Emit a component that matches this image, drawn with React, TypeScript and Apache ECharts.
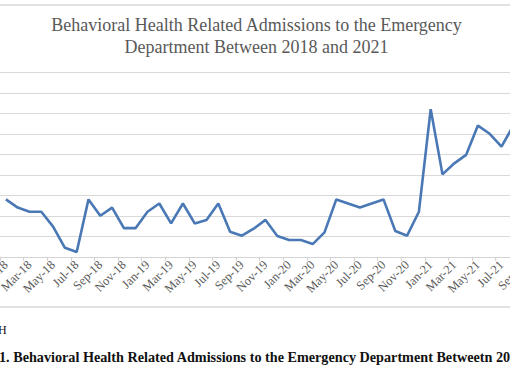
import React, { useEffect, useRef } from "react";
import * as echarts from "echarts";

const categories = [
  "Jan-18", "Feb-18", "Mar-18", "Apr-18", "May-18", "Jun-18", "Jul-18", "Aug-18", "Sep-18", "Oct-18", "Nov-18", "Dec-18",
  "Jan-19", "Feb-19", "Mar-19", "Apr-19", "May-19", "Jun-19", "Jul-19", "Aug-19", "Sep-19", "Oct-19", "Nov-19", "Dec-19",
  "Jan-20", "Feb-20", "Mar-20", "Apr-20", "May-20", "Jun-20", "Jul-20", "Aug-20", "Sep-20", "Oct-20", "Nov-20", "Dec-20",
  "Jan-21", "Feb-21", "Mar-21", "Apr-21", "May-21", "Jun-21", "Jul-21", "Aug-21", "Sep-21", "Oct-21", "Nov-21", "Dec-21",
];

const admissions = [
  28, 24, 22, 22, 14.7, 4.4, 2.3, 28, 20, 24, 14, 14,
  22, 26, 16.3, 26, 16.3, 18, 26, 12.2, 10.3, 13.7, 18, 10.1,
  8.2, 8.2, 6.2, 11.9, 28, 26, 24, 26, 28, 12.6, 10.3, 22,
  72, 40.2, 45.6, 49.7, 64, 60, 53.7, 64,
];

const titleLines = [
  "Behavioral Health Related Admissions to the Emergency",
  "Department Between 2018 and 2021",
];
const noteText = "H";
const captionText = "1. Behavioral Health Related Admissions to the Emergency Department Betweetn 2018 and 2021";

const SERIF = "Liberation Serif, Times New Roman, serif";

export default function App() {
  const ref = useRef<HTMLDivElement>(null);
  useEffect(() => {
    if (!ref.current) return;
    const chart = echarts.init(ref.current, undefined, { renderer: "svg" });
    chart.setOption({
      animation: false,
      backgroundColor: "#ffffff",
      grid: {
        left: 0,
        right: 53.6,
        top: 72.3,
        bottom: 125.2,
        containLabel: false,
        outerBoundsMode: "none",
      },
      xAxis: {
        type: "category",
        data: categories,
        boundaryGap: true,
        axisLine: { show: true, lineStyle: { color: "#d4d4d4", width: 1.2 } },
        axisTick: { show: true, interval: 1, length: 4, lineStyle: { color: "#d4d4d4", width: 1.2 } },
        axisLabel: {
          interval: 1,
          rotate: 45,
          margin: 6,
          color: "#595959",
          fontFamily: SERIF,
          fontSize: 12.5,
        },
        splitLine: { show: false },
      },
      yAxis: {
        type: "value",
        min: 0,
        max: 90,
        interval: 10,
        axisLabel: { show: false },
        axisLine: { show: false },
        axisTick: { show: false },
        splitLine: { show: true, lineStyle: { color: "#d9d9d9", width: 1.2 } },
      },
      series: [
        {
          type: "line",
          data: admissions,
          symbol: "none",
          smooth: false,
          lineStyle: { color: "#4a78b5", width: 2.6 },
        },
      ],
      graphic: [
        {
          type: "rect",
          shape: { x: -10, y: 5, width: 700, height: 302 },
          style: { fill: "none", stroke: "#d9d9d9", lineWidth: 1.3 },
          silent: true,
        },
        {
          type: "text",
          x: 256.5,
          y: 25.4,
          style: {
            text: titleLines[0],
            fill: "#595959",
            fontFamily: SERIF,
            fontSize: 18,
            textAlign: "center",
            textVerticalAlign: "middle",
          },
        },
        {
          type: "text",
          x: 256.5,
          y: 47,
          style: {
            text: titleLines[1],
            fill: "#595959",
            fontFamily: SERIF,
            fontSize: 18,
            textAlign: "center",
            textVerticalAlign: "middle",
          },
        },
        {
          type: "text",
          x: -2,
          y: 330,
          style: {
            text: noteText,
            fill: "#111111",
            fontFamily: SERIF,
            fontSize: 12,
            textAlign: "left",
            textVerticalAlign: "middle",
          },
        },
        {
          type: "text",
          x: -1,
          y: 356.8,
          style: {
            text: captionText,
            fill: "#111111",
            fontFamily: SERIF,
            fontSize: 14.2,
            fontWeight: "bold",
            textAlign: "left",
            textVerticalAlign: "middle",
          },
        },
      ],
    });
    return () => chart.dispose();
  }, []);
  return (
    <div
      style={{
        position: "absolute",
        left: 0,
        top: 0,
        width: 510,
        height: 382,
        overflow: "hidden",
        background: "#ffffff",
      }}
    >
      <div ref={ref} style={{ position: "absolute", left: 0, top: 0, width: 620, height: 382 }} />
    </div>
  );
}
